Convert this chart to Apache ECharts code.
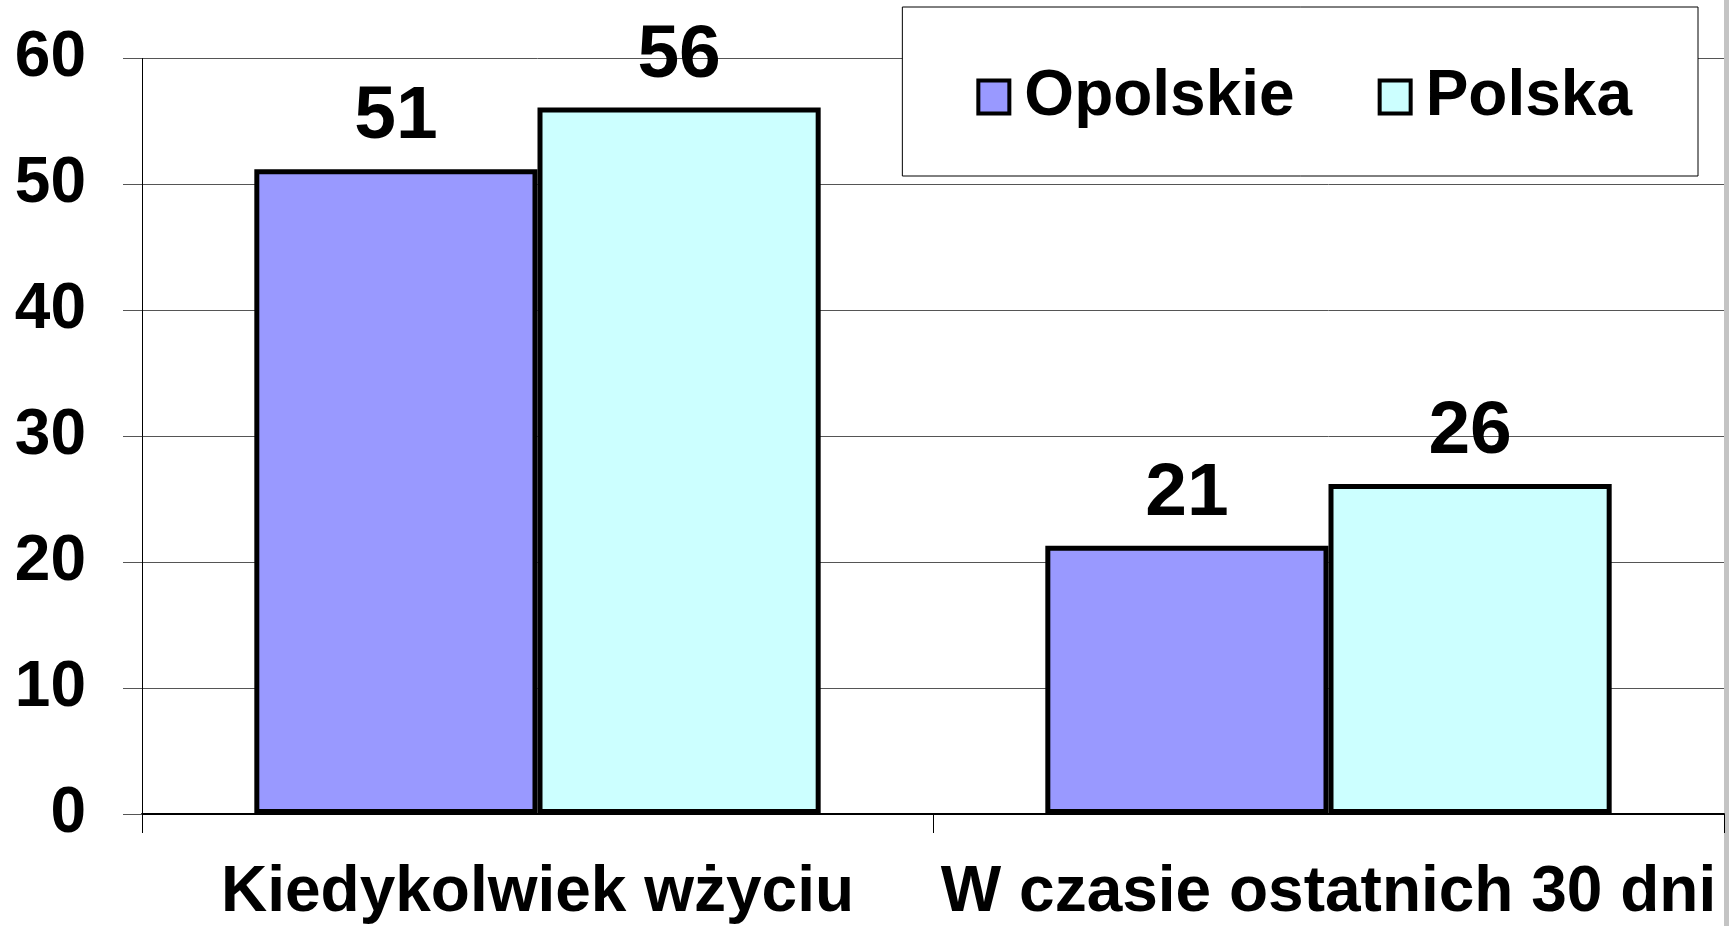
<!DOCTYPE html>
<html>
<head>
<meta charset="utf-8">
<script src="https://cdn.jsdelivr.net/npm/echarts@6/dist/echarts.min.js"></script>
<style>
  html, body { margin: 0; padding: 0; background: #fff; }
  #chart { width: 1729px; height: 926px; }
</style>
</head>
<body>
<div id="chart"></div>
<script>
const categories = ["Kiedykolwiek wżyciu", "W czasie ostatnich 30 dni"];
const opolskie = [51.2, 21.3];
const polska = [56.1, 26.2];
const seriesNames = ["Opolskie", "Polska"];

const font = "'Liberation Sans', Arial, sans-serif";
const chart = echarts.init(document.getElementById("chart"), null, { renderer: "canvas" });

const barLabel = {
  show: true,
  position: "top",
  distance: 14,
  color: "#000",
  fontFamily: font,
  fontWeight: "bold",
  fontSize: 75,
  formatter: (p) => Math.round(p.value),
};

chart.setOption({
  animation: false,
  grid: { left: 142, right: 5, top: 58.5, bottom: 112, containLabel: false },
  legend: {
    right: 31,
    top: 7,
    orient: "horizontal",
    icon: "rect",
    backgroundColor: "#fff",
    borderColor: "#000",
    borderWidth: 1,
    padding: [58, 66, 47, 74],
    itemWidth: 31,
    itemHeight: 33,
    itemGap: 83,
    itemStyle: { borderColor: "#000", borderWidth: 4 },
    textStyle: {
      color: "#000",
      fontFamily: font,
      fontWeight: "bold",
      fontSize: 64,
      padding: [0, 0, 0, 10],
    },
    data: seriesNames,
  },
  xAxis: {
    type: "category",
    data: categories,
    axisLine: { show: true, lineStyle: { color: "#000", width: 2 } },
    axisTick: { show: true, length: 19, alignWithLabel: false, lineStyle: { color: "#000", width: 1 } },
    axisLabel: {
      color: "#000",
      fontFamily: font,
      fontWeight: "bold",
      fontSize: 64,
      margin: 47,
      interval: 0,
    },
  },
  yAxis: {
    type: "value",
    min: 0,
    max: 60,
    interval: 10,
    axisLine: { show: true, lineStyle: { color: "#000", width: 1 } },
    axisTick: { show: true, length: 19, lineStyle: { color: "#555", width: 1 } },
    splitLine: { show: true, lineStyle: { color: "#555", width: 1 } },
    axisLabel: {
      color: "#000",
      fontFamily: font,
      fontWeight: "bold",
      fontSize: 64,
      margin: 56,
    },
  },
  series: [
    {
      name: seriesNames[0],
      type: "bar",
      data: opolskie,
      barGap: "0%",
      barCategoryGap: "28.4%",
      itemStyle: { color: "#9999FF", borderColor: "#000", borderWidth: 5 },
      label: barLabel,
    },
    {
      name: seriesNames[1],
      type: "bar",
      data: polska,
      barGap: "0%",
      barCategoryGap: "28.4%",
      itemStyle: { color: "#CCFFFF", borderColor: "#000", borderWidth: 5 },
      label: barLabel,
    },
  ],
  graphic: [
    {
      type: "rect",
      right: 0,
      top: 0,
      shape: { width: 5, height: 926 },
      style: { fill: "#c4c4c4" },
      silent: true,
    },
  ],
});
</script>
</body>
</html>
